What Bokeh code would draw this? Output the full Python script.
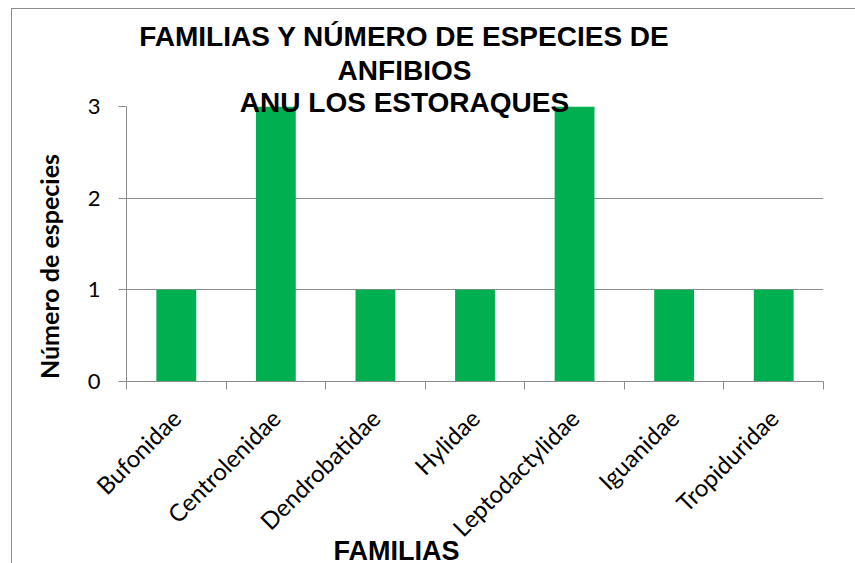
import math
from bokeh.plotting import figure
from bokeh.models import Range1d, FixedTicker, Label, Title
from bokeh.embed import file_html
from bokeh.resources import INLINE

families = ["Bufonidae", "Centrolenidae", "Dendrobatidae", "Hylidae",
            "Leptodactylidae", "Iguanidae", "Tropiduridae"]
species = [1, 3, 1, 1, 3, 1, 1]
y_ticks = [0, 1, 2, 3]
title_lines = ["FAMILIAS Y NÚMERO DE ESPECIES DE", "ANFIBIOS", "ANU LOS ESTORAQUES"]
x_title = "FAMILIAS"
y_title = "Número de especies"

GRAY = "#8c8c8c"
GREEN = "#00B050"

centers = [i + 0.5 for i in range(len(families))]
bounds = list(range(len(families) + 1))

p = figure(width=855, height=563, output_backend="svg", toolbar_location=None,
           title=None,
           x_range=Range1d(0, len(families)), y_range=Range1d(0, max(y_ticks)),
           min_border_left=126, min_border_right=32, min_border_top=106,
           min_border_bottom=182)
p.outline_line_color = None
p.background_fill_color = "white"
p.border_fill_color = None
# chart-area border (left and top edges visible, the rest is cut off)
p.styles = {
    "background": (f"linear-gradient({GRAY}, {GRAY}) 11px 8px / 1px 900px no-repeat, "
                   f"linear-gradient({GRAY}, {GRAY}) 11px 8px / 1200px 1px no-repeat, white"),
}

p.vbar(x=centers, top=species, width=0.4, fill_color=GREEN, line_color=None)

# grid
p.xgrid.visible = False
p.ygrid.ticker = FixedTicker(ticks=y_ticks)
p.ygrid.grid_line_color = GRAY
p.ygrid.grid_line_width = 1

# y axis
p.yaxis.ticker = FixedTicker(ticks=y_ticks)
p.yaxis.axis_line_color = GRAY
p.yaxis.major_tick_line_color = GRAY
p.yaxis.major_tick_out = 8
p.yaxis.major_tick_in = 0
p.yaxis.minor_tick_line_color = None
p.yaxis.major_label_text_font = "Lato"
p.yaxis.major_label_text_font_size = "22px"
p.yaxis.major_label_text_color = "black"
p.yaxis.major_label_standoff = 18

# x axis
p.xaxis.ticker = FixedTicker(ticks=centers, minor_ticks=bounds)
p.xaxis.major_label_overrides = {c: f for c, f in zip(centers, families)}
p.xaxis.axis_line_color = GRAY
p.xaxis.major_tick_line_color = None
p.xaxis.major_tick_out = 0
p.xaxis.major_tick_in = 0
p.xaxis.minor_tick_line_color = GRAY
p.xaxis.minor_tick_out = 8
p.xaxis.minor_tick_in = 0
p.xaxis.major_label_orientation = math.pi / 4
p.xaxis.major_label_text_font = "Lato"
p.xaxis.major_label_text_font_size = "24px"
p.xaxis.major_label_text_color = "black"
p.xaxis.major_label_standoff = 24

for line, yy in zip(title_lines, [36, 70, 102]):
    p.add_layout(Label(x=404, y=yy, x_units="canvas", y_units="canvas", text=line,
                       text_align="center", text_baseline="alphabetic",
                       text_font="Liberation Sans", text_font_style="bold",
                       text_font_size="28px", text_color="black"), "above")

p.add_layout(Title(text=x_title, align="left", offset=207, standoff=-38,
                   vertical_align="top",
                   text_font="Liberation Sans", text_font_style="bold",
                   text_font_size="27px", text_color="black"), "below")

p.add_layout(Label(x=48, y=266, x_units="canvas", y_units="canvas", text=y_title,
                   angle=math.pi / 2, text_align="center", text_baseline="middle",
                   text_font="Lato", text_font_style="bold",
                   text_font_size="25px", text_color="black"), "left")

open("out.html", "w").write(file_html(p, INLINE))
